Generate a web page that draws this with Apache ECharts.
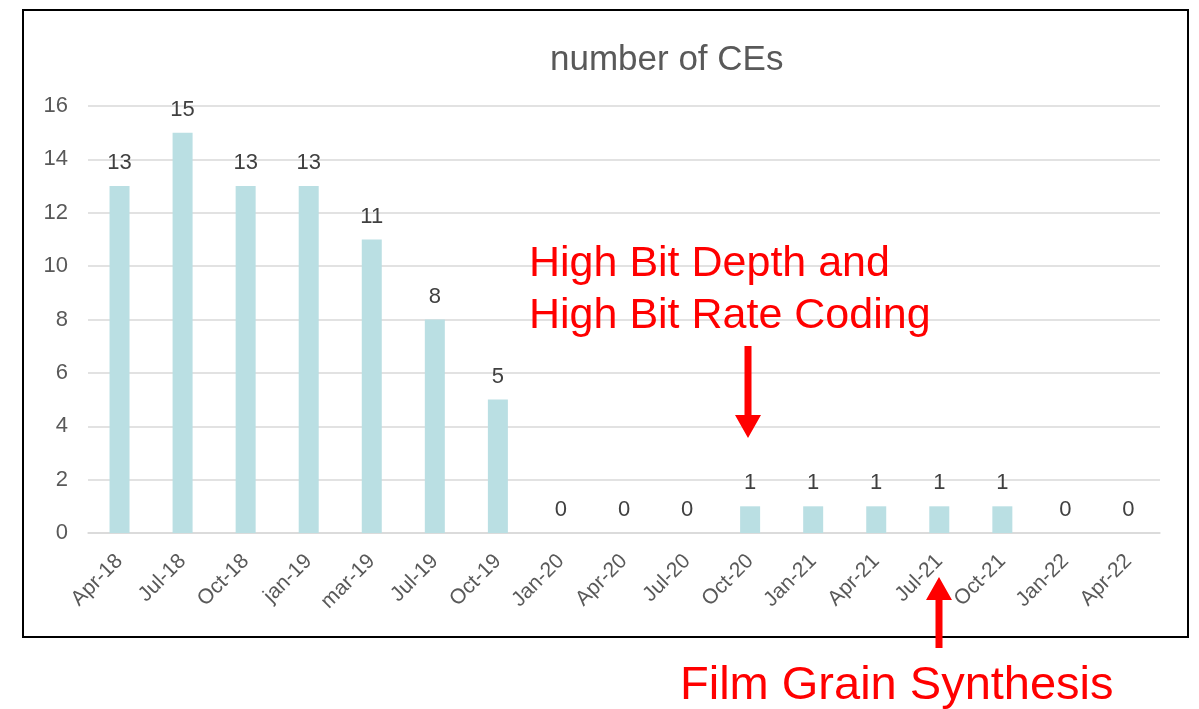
<!DOCTYPE html>
<html>
<head>
<meta charset="utf-8">
<script src="https://cdn.jsdelivr.net/npm/echarts@6/dist/echarts.min.js"></script>
<style>
  html, body { margin: 0; padding: 0; background: #fff; }
  #main { width: 1199px; height: 709px; }
</style>
</head>
<body>
<div id="main"></div>
<script>
// categories and counts
var quarters = ['Apr-18', 'Jul-18', 'Oct-18', 'jan-19', 'mar-19', 'Jul-19', 'Oct-19', 'Jan-20', 'Apr-20',
    'Jul-20', 'Oct-20', 'Jan-21', 'Apr-21', 'Jul-21', 'Oct-21', 'Jan-22', 'Apr-22'];
var ceCounts = [13, 15, 13, 13, 11, 8, 5, 0, 0, 0, 1, 1, 1, 1, 1, 0, 0];

var chart = echarts.init(document.getElementById('main'));

//箭头（注释）
function arrow(x, yTail, yTip, headLen, headW, shaftW) {
    var dir = yTip > yTail ? 1 : -1;
    var yBase = yTip - dir * headLen;
    return {
        type: 'polygon',
        shape: {
            points: [
                [x - shaftW / 2, yTail], [x + shaftW / 2, yTail],
                [x + shaftW / 2, yBase], [x + headW / 2, yBase],
                [x, yTip],
                [x - headW / 2, yBase], [x - shaftW / 2, yBase]
            ]
        },
        style: { fill: '#ff0000' },
        z: 100
    };
}

var font = 'Liberation Sans, Arial';

var option = {
    animation: false,
    title: {
        text: 'number of CEs',
        left: 545,
        top: 38,
        textStyle: { color: '#595959', fontSize: 35, fontWeight: 'normal', fontFamily: font }
    },
    grid: { left: 88, right: 39, top: 106, bottom: 176 },
    xAxis: {
        type: 'category',
        data: quarters,
        axisLine: { lineStyle: { color: '#d9d9d9', width: 1.5 } },
        axisTick: { show: false },
        axisLabel: {
            rotate: 45,
            interval: 0,
            margin: 25,
            color: '#595959',
            fontSize: 21,
            fontFamily: font
        }
    },
    yAxis: {
        type: 'value',
        min: 0,
        max: 16,
        interval: 2,
        axisLine: { show: false },
        axisTick: { show: false },
        splitLine: { lineStyle: { color: '#d9d9d9', width: 1.5 } },
        axisLabel: { color: '#595959', fontSize: 22, margin: 20, fontFamily: font }
    },
    series: [{
        type: 'bar',
        data: ceCounts,
        barWidth: 20,
        itemStyle: { color: '#badfe3' },
        label: {
            show: true,
            position: 'top',
            distance: 12,
            color: '#404040',
            fontSize: 22,
            fontFamily: font
        }
    }],
    graphic: [
        {
            type: 'rect',
            shape: { x: 23, y: 10, width: 1165, height: 627 },
            style: { fill: 'none', stroke: '#000', lineWidth: 2 },
            z: 50
        },
        {
            type: 'text',
            left: 529,
            top: 238,
            style: {
                text: 'High Bit Depth and\nHigh Bit Rate Coding',
                fill: '#ff0000',
                fontSize: 43,
                lineHeight: 52,
                fontFamily: font
            },
            z: 100
        },
        {
            type: 'text',
            left: 680,
            top: 663,
            style: {
                text: 'Film Grain Synthesis',
                fill: '#ff0000',
                fontSize: 47,
                fontFamily: font
            },
            z: 100
        },
        arrow(748, 346, 438, 23, 26, 7),
        arrow(939, 648, 577, 23, 26, 7)
    ]
};
chart.setOption(option);
</script>
</body>
</html>
